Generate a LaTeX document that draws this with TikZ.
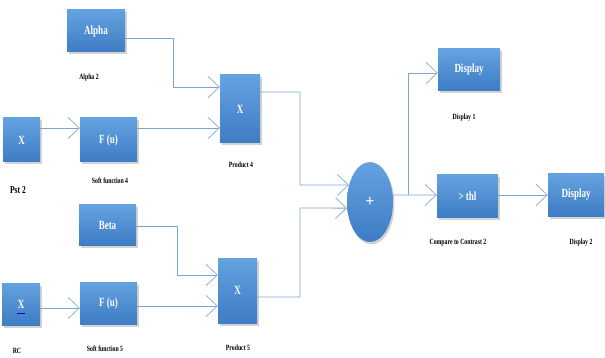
\documentclass[tikz,border=0pt]{standalone}
\usepackage{fontspec}
\setmainfont{Liberation Serif}
\newfontfamily\condbf[FakeStretch=0.72]{Liberation Serif Bold}
\usetikzlibrary{arrows.meta,shadows,shapes.geometric}
\definecolor{boxtop}{HTML}{64A2E0}
\definecolor{boxbot}{HTML}{3E7CC4}
\definecolor{linec}{HTML}{7DA5D2}
\definecolor{tipc}{HTML}{8FAFD6}
\begin{document}
\begin{tikzpicture}[x=1pt,y=-1pt,
  blk/.style={rectangle, draw=none, top color=boxtop, bottom color=boxbot,
    drop shadow={shadow xshift=1.5pt,shadow yshift=-2.5pt,opacity=0.35},
    text=white, font=\condbf\fontsize{12.5}{14}\selectfont, inner sep=0pt},
  lab/.style={font=\condbf\fontsize{8}{9}\selectfont, text=black, inner sep=0pt},
  conn/.style={draw=linec, line width=0.8pt},
  arr/.style={conn, -{Straight Barb[length=11pt,width=21pt,line width=0.8pt,color=tipc]}}
]
\useasboundingbox (0,0) rectangle (605,358);

% blocks
\node[blk, minimum width=58pt, minimum height=42pt] (alpha) at (96,31) {Alpha};
\node[blk, minimum width=37pt, minimum height=44pt] (pst) at (21.5,140) {X};
\node[blk, minimum width=57pt, minimum height=44pt] (ftop) at (108.5,140) {F (u)};
\node[blk, minimum width=40pt, minimum height=68pt] (prod4) at (240,109) {X};
\node[blk, minimum width=57pt, minimum height=40pt] (beta) at (107.5,225) {Beta};
\node[blk, minimum width=38pt, minimum height=42pt] (rc) at (21,304) {X};
\node[blk, minimum width=57pt, minimum height=42pt] (fbot) at (108.5,303) {F (u)};
\node[blk, minimum width=39pt, minimum height=65pt] (prod5) at (237.5,290.5) {X};
\node[blk, ellipse, minimum width=46pt, minimum height=80pt,
  font=\bfseries\fontsize{16}{18}\selectfont] (pl) at (370,202) {+};
\node[blk, minimum width=62pt, minimum height=42pt] (disp1) at (469,70) {Display};
\node[blk, minimum width=61pt, minimum height=43pt] (thl) at (467.5,196.5) {> thl};
\node[blk, minimum width=56pt, minimum height=43pt] (disp2) at (576,195) {Display};

% underline under the RC X
\draw[blue!75!black, line width=1pt] ([xshift=-4pt,yshift=-9pt]rc.center) -- ++(8pt,0);

% labels
\node[lab] (lalpha) at (89,78) {Alpha 2};
\node[lab, font=\condbf\fontsize{10.5}{12}\selectfont] (lpst) at (18,190) {Pst 2};
\node[lab] (lftop) at (110,181) {Soft function 4};
\node[lab] (lprod4) at (241,165) {Product 4};
\node[lab] (ldisp1) at (464,118) {Display 1};
\node[lab] (lthl) at (458,243) {Compare to Contrast 2};
\node[lab] (ldisp2) at (581,243) {Display 2};
\node[lab] (lrc) at (17,351) {RC};
\node[lab] (lfbot) at (105,349) {Soft function 5};
\node[lab] (lprod5) at (238,348) {Product 5};

% connectors
\draw[arr] ([yshift=-7pt]alpha.east) -| (173,87) -- ([yshift=22pt]prod4.west);
\draw[arr] ([yshift=12pt]pst.east) -- ([yshift=12pt]ftop.west);
\draw[arr] ([yshift=12pt]ftop.east) -- ([yshift=-19pt]prod4.west);
\draw[arr] ([yshift=17pt]prod4.east) -| (300,185) -- (pl.141);
\draw[arr] ([yshift=-1pt]beta.east) -| (177,275) -- ([yshift=15.5pt]prod5.west);
\draw[arr] ([yshift=-4pt]rc.east) -- ([yshift=-5pt]fbot.west);
\draw[arr] ([yshift=-3pt]fbot.east) -- ([yshift=-15.5pt]prod5.west);
\draw[arr] ([yshift=-6.5pt]prod5.east) -| (300,208) -- (pl.195);
\draw[arr] (pl.17) -- ([yshift=1.5pt]thl.west);
\coordinate (br) at (408,195);
\draw[arr] (br) |- ([yshift=-3pt]disp1.west);
\draw[arr] ([yshift=1.5pt]thl.east) -- (disp2.west);
\end{tikzpicture}
\end{document}
